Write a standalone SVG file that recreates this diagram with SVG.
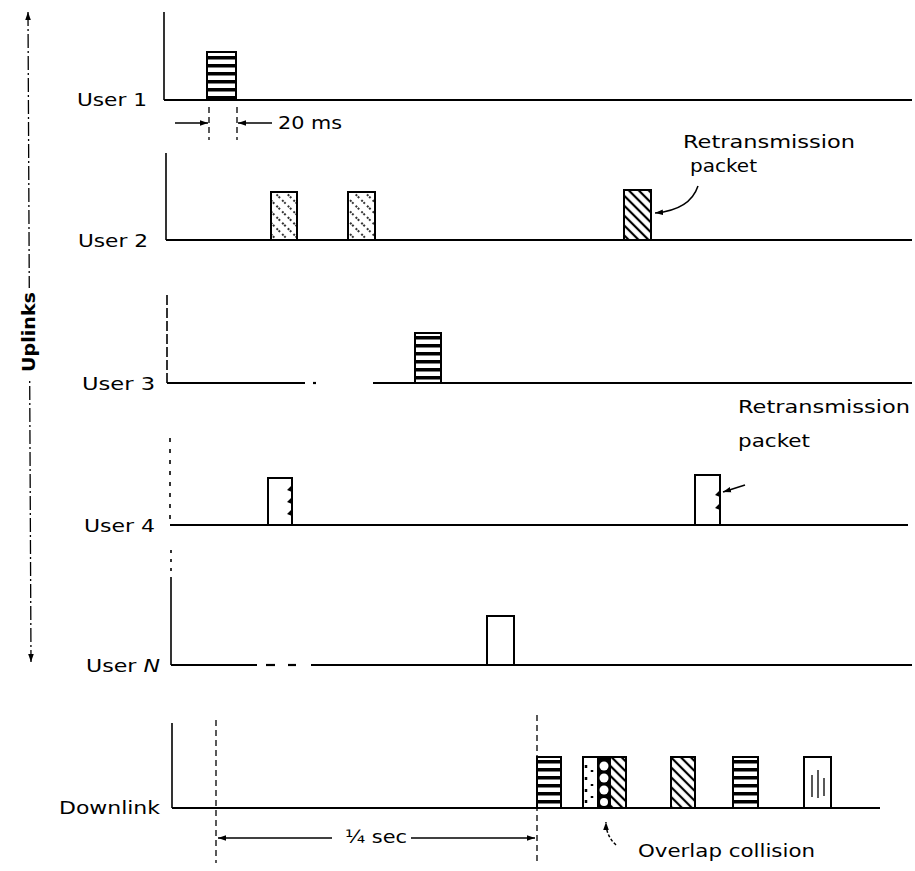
<svg xmlns="http://www.w3.org/2000/svg" width="915" height="871" viewBox="0 0 915 871">
<defs>
<style>
.ax{stroke:#000;stroke-width:1.6;fill:none}
.bl{stroke:#000;stroke-width:2.2;fill:none}
.dash{stroke:#000;stroke-width:1.3;fill:none;stroke-dasharray:6 4}
.pk{stroke:#000;stroke-width:2;}
.lbl{font-family:"DejaVu Sans","Liberation Sans",sans-serif;font-size:17px;fill:#000}
.sm{font-family:"DejaVu Sans","Liberation Sans",sans-serif;font-size:15px;fill:#000}
.ld{stroke:#000;stroke-width:1.5;fill:none}
</style>
<pattern id="stripes" patternUnits="userSpaceOnUse" width="8" height="8">
<rect width="8" height="8" fill="#fff"/>
<rect width="8" height="3.5" fill="#000"/>
</pattern>
<pattern id="hatch" patternUnits="userSpaceOnUse" width="7" height="7" patternTransform="rotate(-45)">
<rect width="7" height="7" fill="#fff"/>
<line x1="2" y1="0" x2="2" y2="7" stroke="#000" stroke-width="2.2"/>
</pattern>
<pattern id="hatchf" patternUnits="userSpaceOnUse" width="8" height="8" patternTransform="rotate(-45)">
<rect width="8" height="8" fill="#fff"/>
<line x1="2" y1="0" x2="2" y2="8" stroke="#000" stroke-width="1.6" stroke-dasharray="2 3"/>
</pattern>
<marker id="ah" viewBox="0 0 10 10" refX="10" refY="5" markerWidth="8" markerHeight="8" markerUnits="userSpaceOnUse" orient="auto-start-reverse">
<path d="M0,1.5 L10,5 L0,8.5 z" fill="#000"/>
</marker>
</defs>
<rect width="915" height="871" fill="#fff"/>

<g id="uplinks-axis">
<line x1="28" y1="12" x2="31" y2="662" stroke="#000" stroke-width="1.3" stroke-dasharray="14 3 2 3" marker-start="url(#ah)" marker-end="url(#ah)"/>
<rect x="18" y="288" width="20" height="90" fill="#fff"/>
<text class="lbl" transform="translate(35,372) rotate(-90)" textLength="80" lengthAdjust="spacingAndGlyphs" font-weight="bold">Uplinks</text>
</g>

<g id="user1">
<text class="lbl" x="77" y="106" textLength="70" lengthAdjust="spacingAndGlyphs">User 1</text>
<polyline class="ax" points="164,12 164,100"/>
<line class="bl" x1="164" y1="100" x2="912" y2="100"/>
<rect class="pk" x="207" y="52" width="29" height="48" fill="url(#stripes)"/>
<line class="dash" x1="209" y1="107" x2="209" y2="140"/>
<line class="dash" x1="237" y1="107" x2="237" y2="140"/>
<text class="lbl" x="278" y="129" textLength="64" lengthAdjust="spacingAndGlyphs">20 ms</text>
</g>

<g id="user2">
<text class="lbl" x="78" y="247" textLength="70" lengthAdjust="spacingAndGlyphs">User 2</text>
<line class="ax" x1="166" y1="153" x2="166" y2="240"/>
<line class="bl" x1="166" y1="240" x2="912" y2="240"/>
<rect class="pk" x="271" y="192" width="26" height="48" fill="url(#hatchf)"/>
<rect class="pk" x="348" y="192" width="27" height="48" fill="url(#hatchf)"/>
<rect class="pk" x="624" y="190" width="27" height="50" fill="url(#hatch)"/>
<text class="lbl" x="683" y="148" textLength="172" lengthAdjust="spacingAndGlyphs">Retransmission</text>
<text class="lbl" x="690" y="172" textLength="67" lengthAdjust="spacingAndGlyphs">packet</text>
</g>

<g id="user3">
<text class="lbl" x="82" y="390" textLength="73" lengthAdjust="spacingAndGlyphs">User 3</text>
<line class="ax" x1="167" y1="295" x2="167" y2="383" stroke-dasharray="10 3"/>
<line class="bl" x1="167" y1="383" x2="305" y2="383"/>
<line class="bl" x1="313" y1="383" x2="316" y2="383"/>
<line class="bl" x1="373" y1="383" x2="912" y2="383"/>
<rect class="pk" x="415" y="333" width="26" height="50" fill="url(#stripes)"/>
</g>

<g id="user4">
<text class="lbl" x="84" y="532" textLength="71" lengthAdjust="spacingAndGlyphs">User 4</text>
<line class="ax" x1="170" y1="438" x2="170" y2="525" stroke-dasharray="4 7"/>
<line class="bl" x1="170" y1="525" x2="908" y2="525"/>
<rect class="pk" x="268" y="478" width="24" height="47" fill="#fff"/>
<path d="M292,485 L287,490 L292,492 Z M292,497 L287,502 L292,504 Z M292,509 L287,514 L292,516 Z" fill="#000"/>
<rect class="pk" x="695" y="475" width="25" height="50" fill="#fff"/>
<path d="M720,490 L715,495 L720,497 Z M720,503 L715,508 L720,510 Z" fill="#000"/>
<text class="lbl" x="738" y="413" textLength="172" lengthAdjust="spacingAndGlyphs">Retransmission</text>
<text class="lbl" x="738" y="447" textLength="72" lengthAdjust="spacingAndGlyphs">packet</text>
</g>

<g id="userN">
<text class="lbl" x="86" y="672" textLength="74" lengthAdjust="spacingAndGlyphs">User <tspan font-style="italic">N</tspan></text>
<line class="ax" x1="171" y1="550" x2="171" y2="578" stroke-dasharray="3 6"/>
<line class="ax" x1="171" y1="578" x2="171" y2="665"/>
<line class="bl" x1="171" y1="665" x2="257" y2="665"/>
<line class="bl" x1="266" y1="665" x2="275" y2="665"/>
<line class="bl" x1="288" y1="665" x2="296" y2="665"/>
<line class="bl" x1="311" y1="665" x2="912" y2="665"/>
<rect class="pk" x="487" y="616" width="27" height="49" fill="#fff"/>
</g>

<g id="downlink">
<text class="lbl" x="59" y="814" textLength="101" lengthAdjust="spacingAndGlyphs">Downlink</text>
<line class="ax" x1="172" y1="723" x2="172" y2="808"/>
<line class="bl" x1="172" y1="808" x2="880" y2="808"/>
<line class="dash" x1="216" y1="720" x2="216" y2="863"/>
<line class="dash" x1="537" y1="715" x2="537" y2="863"/>
<rect class="pk" x="537" y="757" width="24" height="51" fill="url(#stripes)"/>
<g id="collision">
<rect x="583" y="757" width="43" height="51" fill="#fff"/>
<rect x="597" y="757" width="14" height="51" fill="#000"/>
<circle cx="604" cy="766" r="4.5" fill="#fff"/>
<circle cx="604" cy="778" r="4.5" fill="#fff"/>
<circle cx="604" cy="790" r="4.5" fill="#fff"/>
<circle cx="604" cy="802" r="4" fill="#fff"/>
<rect x="611" y="757" width="15" height="51" fill="url(#hatch)"/>
<path d="M586,765 v3 M586,777 v3 M586,789 v3 M586,800 v3 M592,770 v2 M592,784 v2 M592,796 v2" stroke="#000" stroke-width="2.5"/>
<rect x="583" y="757" width="43" height="51" fill="none" stroke="#000" stroke-width="2"/>
</g>
<rect class="pk" x="671" y="757" width="24" height="51" fill="url(#hatch)"/>
<rect class="pk" x="733" y="757" width="25" height="51" fill="url(#stripes)"/>
<rect class="pk" x="804" y="757" width="27" height="51" fill="#fff"/>
<path d="M812,775 v22 M818,770 v28 M824,778 v18" stroke="#000" stroke-width="1.3"/>
<text class="lbl" x="345" y="843" textLength="62" lengthAdjust="spacingAndGlyphs">¼ sec</text>
<text class="lbl" x="638" y="857" textLength="177" lengthAdjust="spacingAndGlyphs">Overlap collision</text>
</g>

<g id="connectors">
<line class="ld" x1="175" y1="123" x2="208" y2="123" marker-end="url(#ah)"/>
<line class="ld" x1="272" y1="123" x2="238" y2="123" marker-end="url(#ah)"/>
<path class="ld" d="M698,186 Q690,210 655,213" marker-end="url(#ah)"/>
<path class="ld" d="M745,485 L723,492" marker-end="url(#ah)"/>
<line class="ld" x1="332" y1="838" x2="218" y2="838" marker-end="url(#ah)"/>
<line class="ld" x1="411" y1="838" x2="535" y2="838" marker-end="url(#ah)"/>
<path class="ld" d="M616,845 Q606,836 606,822" stroke-dasharray="3 2" marker-end="url(#ah)"/>
</g>
</svg>
